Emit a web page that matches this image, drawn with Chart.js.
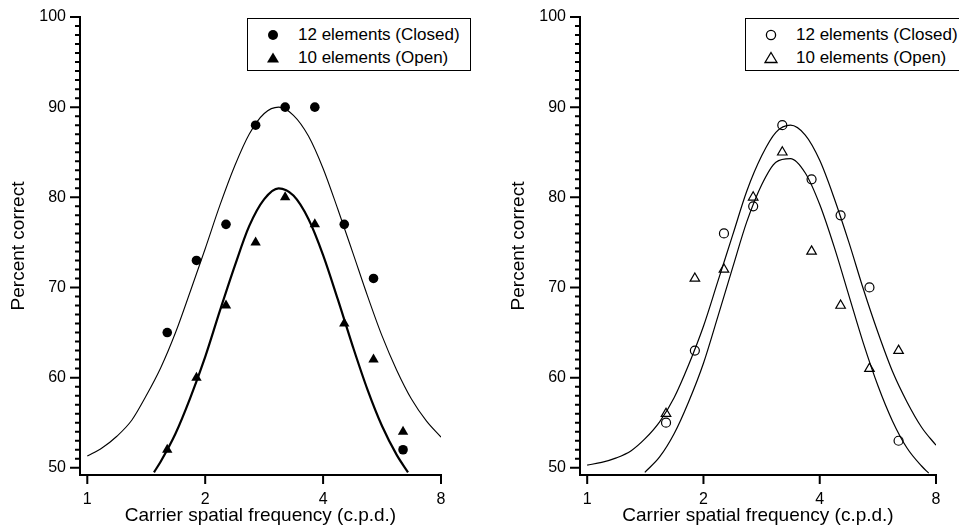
<!DOCTYPE html>
<html><head><meta charset="utf-8">
<script src="https://cdn.jsdelivr.net/npm/chart.js@4.4.1/dist/chart.umd.min.js"></script>
<style>
html,body{margin:0;padding:0;background:#fff;}
body{width:959px;height:527px;position:relative;overflow:hidden;font-family:"Liberation Sans",Arial,sans-serif;}
canvas{position:absolute;top:0;}
#cl{left:0;}
#cr{left:500px;}
.legend{position:absolute;border:1.5px solid #000;background:#fff;box-sizing:border-box;}
.mk{position:absolute;}
.lt{position:absolute;font-size:17px;color:#000;white-space:nowrap;line-height:20px;}
</style></head>
<body>
<canvas id="cl" width="480" height="527"></canvas>
<canvas id="cr" width="459" height="527"></canvas>
<div class="legend" id="legL" style="left:247px;top:18px;width:224px;height:53px;"></div>
<div class="legend" id="legR" style="left:745px;top:18px;width:230px;height:53px;"></div>
<script>
// ---------- data ----------
const FREQ = [1.6, 1.9, 2.26, 2.69, 3.2, 3.81, 4.53, 5.38, 6.4];
const LEFT_CLOSED = [65, 73, 77, 88, 90, 90, 77, 71, 52];
const LEFT_OPEN = [52, 60, 68, 75, 80, 77, 66, 62, 54];
const RIGHT_CLOSED = [55, 63, 76, 79, 88, 82, 78, 70, 53];
const RIGHT_OPEN = [56, 71, 72, 80, 85, 74, 68, 61, 63];

// fitted curves
const FIT_FREQ_FULL = [1, 1.09, 1.19, 1.30, 1.41, 1.54, 1.68, 1.83, 2, 2.18, 2.38, 2.59, 2.83, 3.08, 3.36, 3.67, 4, 4.36, 4.76, 5.19, 5.66, 6.17, 6.73, 7.34, 8];
const LEFT_CLOSED_FIT = [51.3, 52.2, 53.5, 55.3, 57.9, 61.1, 65.0, 69.5, 74.3, 79.1, 83.5, 87.0, 89.3, 90.0, 89.1, 86.8, 83.2, 78.7, 73.9, 69.1, 64.6, 60.8, 57.6, 55.2, 53.4];
const RIGHT_CLOSED_FIT = [50.3, 50.6, 51.1, 51.9, 53.2, 55.1, 57.8, 61.4, 65.7, 70.7, 75.8, 80.7, 84.6, 87.2, 88.0, 86.9, 84.1, 79.9, 75.0, 69.8, 65.0, 60.7, 57.3, 54.5, 52.5];

const LEFT_OPEN_FIT_FREQ = [1.48, 1.54, 1.68, 1.83, 2, 2.18, 2.38, 2.59, 2.83, 3.08, 3.36, 3.67, 4, 4.36, 4.76, 5.19, 5.66, 6.17, 6.59];
const LEFT_OPEN_FIT = [49.5, 50.7, 53.8, 57.7, 62.3, 67.4, 72.4, 76.8, 79.8, 81.0, 80.2, 77.6, 73.6, 68.7, 63.5, 58.7, 54.6, 51.4, 49.5];

const RIGHT_OPEN_FIT_FREQ = [1.41, 1.54, 1.68, 1.83, 2, 2.18, 2.38, 2.59, 2.83, 3.08, 3.36, 3.67, 4, 4.36, 4.76, 5.19, 5.66, 6.17, 6.73, 7.34, 7.66];
const RIGHT_OPEN_FIT = [49.5, 51.2, 53.8, 57.3, 61.6, 66.8, 72.2, 77.3, 81.4, 83.9, 84.3, 82.7, 79.2, 74.5, 69.1, 63.8, 59.1, 55.2, 52.2, 50.2, 49.4];

const X_TICKS = [1, 2, 4, 8];
const Y_LABELS = [50, 60, 70, 80, 90, 100];
const LEGEND_LABELS = ['12 elements (Closed)', '10 elements (Open)'];
const X_TITLE = 'Carrier spatial frequency (c.p.d.)';
const Y_TITLE = 'Percent correct';

// ---------- helpers ----------
function pts(xs, ys) { return xs.map((x, i) => ({ x: x, y: ys[i] })); }
const yMinor = [];
for (let v = Y_LABELS[0]; v <= Y_LABELS[Y_LABELS.length - 1]; v++) yMinor.push(v);

// tick marks drawn through the chart's own scales
const tickMarks = {
  id: 'tickMarks',
  afterDraw(chart) {
    const ctx = chart.ctx, xs = chart.scales.x, ys = chart.scales.y, a = chart.chartArea;
    ctx.save();
    ctx.strokeStyle = '#000';
    ctx.lineWidth = 2;
    ctx.beginPath();
    yMinor.forEach(v => {
      const y = ys.getPixelForValue(v);
      const len = Y_LABELS.indexOf(v) >= 0 ? 10 : 5;
      ctx.moveTo(a.left - len, y); ctx.lineTo(a.left, y);
    });
    X_TICKS.forEach(v => {
      const x = xs.getPixelForValue(v);
      ctx.moveTo(x, a.bottom); ctx.lineTo(x, a.bottom + 9);
    });
    ctx.stroke();
    ctx.restore();
  }
};

function makeChart(id, datasets, padRight) {
  return new Chart(document.getElementById(id), {
    type: 'scatter',
    data: { datasets: datasets },
    plugins: [tickMarks],
    options: {
      responsive: false, animation: false, devicePixelRatio: 1,
      layout: { padding: { top: 17, right: padRight, left: 0, bottom: 0 } },
      plugins: { legend: { display: false }, tooltip: { enabled: false } },
      scales: {
        x: {
          type: 'logarithmic', min: 0.958, max: 8,
          afterBuildTicks: s => { s.ticks = X_TICKS.map(v => ({ value: v })); },
          afterFit: s => { s.height = 52; },
          ticks: { callback: v => String(v), autoSkip: false, maxRotation: 0, color: '#000', padding: 6,
                   font: { family: 'Liberation Sans', size: 16 } },
          grid: { drawOnChartArea: false, tickLength: 9, tickColor: 'rgba(0,0,0,0)' },
          border: { display: true, color: '#000', width: 2 },
          title: { display: true, text: X_TITLE, color: '#000', padding: { top: 0, bottom: 0 },
                   font: { family: 'Liberation Sans', size: 19 } }
        },
        y: {
          type: 'linear', min: 49.2, max: 100,
          afterBuildTicks: s => { s.ticks = yMinor.map(v => ({ value: v })); },
          afterFit: s => { s.width = 80; },
          ticks: { autoSkip: false, color: '#000', padding: 4,
                   callback: v => (Y_LABELS.indexOf(v) >= 0 ? String(v) : ''),
                   font: { family: 'Liberation Sans', size: 16 } },
          grid: { drawOnChartArea: false, tickLength: 10, tickColor: 'rgba(0,0,0,0)' },
          border: { display: true, color: '#000', width: 2 },
          title: { display: true, text: Y_TITLE, color: '#000', padding: { top: 7, bottom: 0 },
                   font: { family: 'Liberation Sans', size: 19 } }
        }
      }
    }
  });
}

function fit(xs, ys, w) {
  return { data: pts(xs, ys), showLine: true, pointRadius: 0, borderColor: '#000', borderWidth: w,
           cubicInterpolationMode: 'monotone', fill: false };
}
function marks(xs, ys, style, r, filled) {
  return { data: pts(xs, ys), showLine: false, pointStyle: style, pointRadius: r,
           backgroundColor: filled ? '#000' : 'rgba(0,0,0,0)', borderColor: '#000',
           borderWidth: filled ? 0 : 1.2 };
}

makeChart('cl', [
  fit(FIT_FREQ_FULL, LEFT_CLOSED_FIT, 1.1),
  fit(LEFT_OPEN_FIT_FREQ, LEFT_OPEN_FIT, 2.2),
  marks(FREQ, LEFT_CLOSED, 'circle', 4.8, true),
  marks(FREQ, LEFT_OPEN, 'triangle', 6, true)
], 39);

makeChart('cr', [
  fit(FIT_FREQ_FULL, RIGHT_CLOSED_FIT, 1.2),
  fit(RIGHT_OPEN_FIT_FREQ, RIGHT_OPEN_FIT, 1.2),
  marks(FREQ, RIGHT_CLOSED, 'circle', 4.5, false),
  marks(FREQ, RIGHT_OPEN, 'triangle', 5.5, false)
], 23);

// ---------- legends (HTML) ----------
function legend(id, filled) {
  const el = document.getElementById(id);
  const fill = filled ? '#000' : 'none';
  const sw = filled ? 0 : 1.3;
  const shapes = [
    '<circle cx="8" cy="8" r="' + (filled ? 5 : 4.6) + '" fill="' + fill + '" stroke="#000" stroke-width="' + sw + '"/>',
    '<polygon points="8,2.5 14,12.5 2,12.5" fill="' + fill + '" stroke="#000" stroke-width="' + sw + '" stroke-linejoin="miter"/>'
  ];
  LEGEND_LABELS.forEach((t, i) => {
    const top = i === 0 ? 8 : 31;
    el.insertAdjacentHTML('beforeend',
      '<svg class="mk" width="16" height="16" style="left:17px;top:' + top + 'px"><g>' + shapes[i] + '</g></svg>' +
      '<span class="lt" style="left:50px;top:' + (top - 2) + 'px">' + t + '</span>');
  });
}
legend('legL', true);
legend('legR', false);
</script>
</body></html>
